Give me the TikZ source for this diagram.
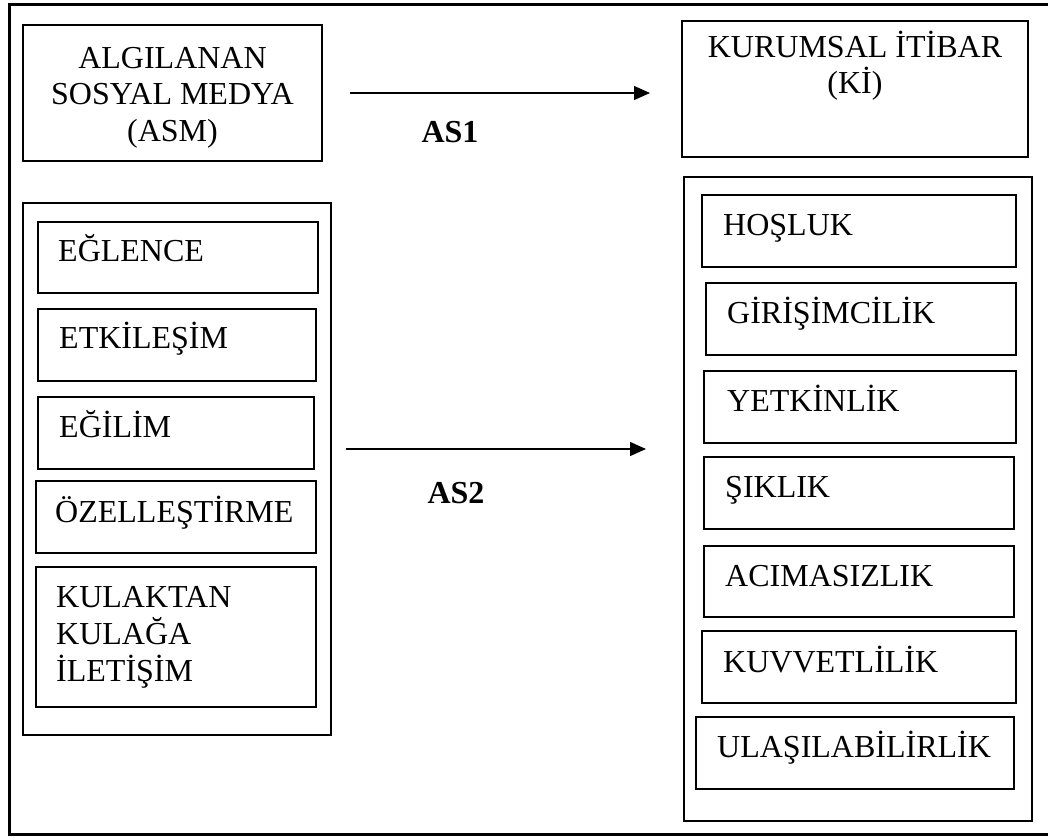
\documentclass[tikz,border=0pt]{standalone}
\usepackage{fontspec}
\setmainfont{Liberation Serif}
\usetikzlibrary{arrows.meta}
\newcommand\fs{\fontsize{32}{37}\selectfont}
\newcommand\mybox[5]{\node[box, anchor=north west, minimum width={(#4-#2)*1pt}, minimum height={(#5-#3)*1pt}] (#1) at (#2,#3) {};}
\begin{document}
\begin{tikzpicture}[x=1pt,y=-1pt,
  frame/.style={draw, line width=2.6pt},
  box/.style={draw, line width=1.3pt, inner sep=0pt, outer sep=0pt},
  lbl/.style={anchor=base west, inner sep=0pt, font=\fs},
  ctr/.style={anchor=base, inner sep=0pt, font=\fs},
  aslbl/.style={anchor=base, inner sep=0pt, font=\fs\bfseries},
  arr/.style={line width=1.3pt, -{Triangle[length=16pt,width=14pt]}}]
\useasboundingbox (0,0) rectangle (1048,839);
% outer frame
\node[frame, anchor=north west, minimum width=1044pt, minimum height=830pt, inner sep=0pt] (outerframe) at (8,3) {};
% top boxes
\mybox{asm}{23}{25}{322}{161}
\node[ctr] (asm1) at (172.5,68) {ALGILANAN};
\node[ctr] (asm2) at (172.5,104) {SOSYAL MEDYA};
\node[ctr] (asm3) at (172.5,141) {(ASM)};
\mybox{ki}{682}{21}{1028}{157}
\node[ctr] (ki1) at (855,57) {KURUMSAL İTİBAR};
\node[ctr] (ki2) at (855,93) {(Kİ)};
% left group
\mybox{lgrp}{23}{203}{331}{735}
\mybox{l1}{38}{222}{318}{293}
\node[lbl] (t1) at (58,261) {EĞLENCE};
\mybox{l2}{38}{309}{316}{381}
\node[lbl] (t2) at (59,348) {ETKİLEŞİM};
\mybox{l3}{38}{397}{314}{469}
\node[lbl] (t3) at (59,437) {EĞİLİM};
\mybox{l4}{36}{481}{316}{553}
\node[lbl] (t4) at (55,522) {ÖZELLEŞTİRME};
\mybox{l5}{36}{567}{316}{707}
\node[lbl] (t5a) at (56,607) {KULAKTAN};
\node[lbl] (t5b) at (56,644) {KULAĞA};
\node[lbl] (t5c) at (56,681) {İLETİŞİM};
% right group
\mybox{rgrp}{684}{177}{1032}{821}
\mybox{r1}{702}{195}{1016}{267}
\node[lbl] (u1) at (723,235) {HOŞLUK};
\mybox{r2}{706}{283}{1016}{355}
\node[lbl] (u2) at (727,323) {GİRİŞİMCİLİK};
\mybox{r3}{704}{371}{1016}{443}
\node[lbl] (u3) at (727,411) {YETKİNLİK};
\mybox{r4}{704}{457}{1014}{529}
\node[lbl] (u4) at (725,497) {ŞIKLIK};
\mybox{r5}{704}{546}{1014}{617}
\node[lbl] (u5) at (725,586) {ACIMASIZLIK};
\mybox{r6}{702}{631}{1016}{703}
\node[lbl] (u6) at (723,672) {KUVVETLİLİK};
\mybox{r7}{696}{717}{1014}{789}
\node[lbl] (u7) at (717,757) {ULAŞILABİLİRLİK};
% arrows
\coordinate (a1s) at (350,93);
\coordinate (a1e) at (650,93);
\coordinate (a2s) at (346,449);
\coordinate (a2e) at (646,449);
\draw[arr] (a1s) -- (a1e);
\draw[arr] (a2s) -- (a2e);
\node[aslbl] (as1) at (450,142) {AS1};
\node[aslbl] (as2) at (456,503) {AS2};
\end{tikzpicture}
\end{document}
